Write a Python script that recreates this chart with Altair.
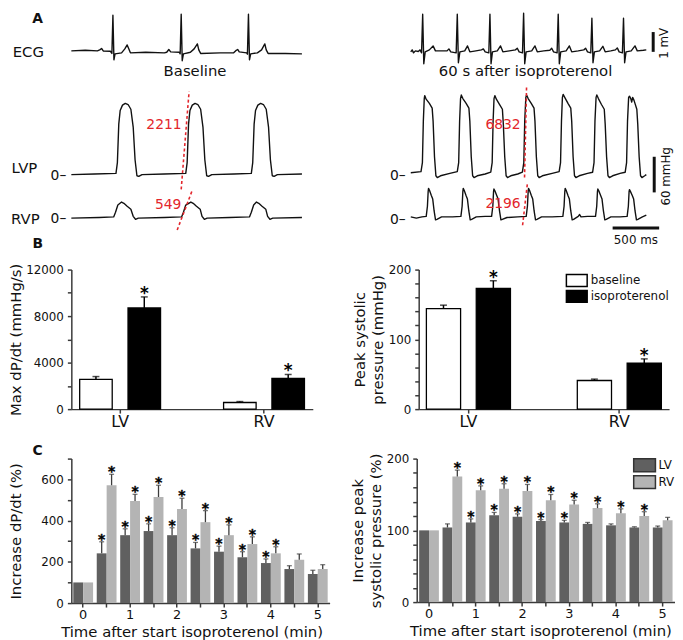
import altair as alt
import pandas as pd

FONT = "DejaVu Sans"
RED = "#e3262c"
INK = "#111111"
AXC = "#3a3a3a"

# ---------------- Panel A: recorded traces ----------------
# (time ms, value) ; ECG in mV, LVP / RVP in mmHg
base_ecg = [(0,0.05),(150,0.08),(280,0.05),(305,0.1),(325,0.17),(345,0.04),(420,0.03),(436,-0.08),(447,1.85),(458,-0.4),
            (470,-0.1),(540,-0.05),(575,0.15),(600,0.35),(615,0.18),(635,-0.05),(800,-0.02),(1000,-0.05),(1025,-0.02),(1048,0.12),
            (1068,0.0),(1160,-0.02),(1170,-0.1),(1181,1.9),(1192,-0.45),(1205,-0.1),(1280,-0.02),(1320,0.15),(1355,0.4),(1370,0.1),
            (1390,-0.08),(1600,-0.05),(1745,-0.05),(1768,0.06),(1788,0.12),(1805,0.0),(1885,-0.05),(1893,-0.12),(1904,1.9),(1915,-0.4),
            (1928,-0.1),(2000,-0.05),(2045,0.1),(2080,0.4),(2095,0.1),(2115,-0.08),(2300,-0.08),(2479,-0.1)]
base_lvp = [(0,0),(250,1),(480,2),(495,20),(510,85),(525,108),(550,117),(580,120),(610,118),(640,110),(665,80),(685,25),
            (705,-2),(725,-3),(760,0),(1000,1),(1230,2),(1245,20),(1260,85),(1275,108),(1300,117),(1330,120),(1360,118),
            (1390,110),(1415,80),(1435,25),(1455,-2),(1475,-3),(1510,0),(1750,1),(1935,2),(1950,20),(1965,85),(1980,108),
            (2005,117),(2035,120),(2065,118),(2095,110),(2120,80),(2140,25),(2160,-2),(2180,-3),(2215,0),(2479,1)]
base_rvp = [(0,0),(300,1),(455,2),(475,10),(500,22),(540,27),(565,25),(600,20),(640,15),(665,3),(690,-2),(720,0),
            (1000,1),(1185,2),(1205,10),(1230,22),(1285,27),(1310,25),(1345,20),(1385,15),(1405,3),(1430,-2),(1460,0),
            (1700,1),(1915,2),(1935,10),(1960,22),(1990,27),(2015,25),(2050,20),(2090,15),(2110,3),(2135,-2),(2165,0),(2479,1)]
iso_ecg = [(0,0.0),(15,0.1),(30,-0.05),(50,0.05),(80,0.02),(100,0.1),(116,-0.05),(128,1.9),(140,-0.6),(155,0.0),
           (200,0.1),(240,0.3),(265,0.05),(330,0.05),(390,0.05),(410,0.15),(430,0.0),(488,-0.05),(500,1.9),(512,-0.55),
           (528,0.0),(580,0.05),(610,0.3),(635,0.0),(700,0.05),(760,0.1),(780,0.15),(800,0.0),(839,-0.05),(851,1.9),
           (863,-0.6),(878,0.0),(930,0.05),(965,0.3),(990,0.0),(1060,0.05),(1125,0.1),(1145,0.18),(1165,0.0),(1201,-0.05),
           (1213,1.95),(1225,-0.6),(1240,0.0),(1300,0.05),(1335,0.3),(1360,0.0),(1430,0.05),(1495,0.08),(1515,0.18),(1535,0.0),
           (1573,-0.05),(1585,1.9),(1597,-0.6),(1612,0.0),(1670,0.05),(1705,0.3),(1730,0.0),(1800,0.05),(1860,0.1),(1880,0.18),
           (1900,0.0),(1935,-0.05),(1947,1.7),(1959,-0.55),(1974,0.0),(2030,0.05),(2065,0.28),(2090,0.0),(2150,0.05),(2200,0.1),
           (2220,0.2),(2240,0.0),(2275,-0.05),(2287,1.7),(2299,-0.55),(2314,0.0),(2370,0.05),(2410,0.3),(2435,0.05),(2500,0.08),
           (2532,0.1)]
iso_lvp = [(0,3),(110,5),(125,20),(135,90),(145,128),(150,133),(165,127),(200,120),(230,112),(240,90),(255,30),(270,-2),
           (285,-5),(320,-2),(420,2),(500,5),(515,20),(525,90),(535,128),(543,134),(560,128),(595,120),(625,112),(635,90),
           (650,30),(665,-2),(680,-5),(715,-2),(800,1),(860,4),(875,20),(885,90),(895,128),(904,133),(920,127),(955,118),
           (985,110),(995,85),(1010,30),(1025,-2),(1040,-5),(1075,-2),(1150,1),(1200,4),(1215,20),(1225,90),(1237,130),
           (1245,134),(1262,128),(1295,120),(1325,112),(1335,90),(1350,30),(1365,-2),(1380,-5),(1415,-2),(1520,2),(1595,5),
           (1610,20),(1620,90),(1630,130),(1638,135),(1655,130),(1690,120),(1720,112),(1730,90),(1745,30),(1760,-2),(1775,-5),
           (1810,-2),(1900,2),(1955,4),(1970,20),(1980,90),(1992,130),(2000,134),(2017,128),(2050,118),(2080,110),(2090,85),
           (2105,30),(2120,-2),(2135,-5),(2170,-2),(2250,2),(2305,4),(2320,20),(2330,90),(2342,130),(2351,132),(2365,128),
           (2375,122),(2385,130),(2400,125),(2430,110),(2440,85),(2455,30),(2470,-2),(2485,-5),(2515,-2),(2532,0)]
iso_rvp = [(0,2),(60,0),(120,2),(166,3),(179,20),(187,45),(191,50),(201,47),(221,38),(236,32),(251,12),(266,-3),(281,-2),
           (331,2),(450,2),(539,3),(552,20),(560,45),(564,50),(574,47),(594,38),(609,32),(624,12),(639,-3),(654,-2),(704,2),
           (800,3),(869,3),(882,20),(890,45),(894,49),(904,46),(924,38),(939,32),(954,12),(969,-3),(984,-2),(1034,1),(1150,2),
           (1241,3),(1254,20),(1262,45),(1266,50),(1276,47),(1296,38),(1311,32),(1326,12),(1341,-3),(1356,-2),(1406,2),(1520,2),
           (1635,3),(1648,20),(1656,45),(1660,50),(1670,47),(1690,38),(1705,32),(1720,12),(1735,-3),(1750,-2),(1800,3),(1815,6),
           (1830,2),(1900,3),(1986,3),(1999,20),(2007,45),(2011,49),(2021,46),(2041,38),(2056,32),(2071,12),(2086,-3),(2101,-2),
           (2151,2),(2250,2),(2326,3),(2339,20),(2347,45),(2351,48),(2361,45),(2381,38),(2396,32),(2411,12),(2426,-3),(2441,-2),
           (2490,2),(2532,5)]
# max dP/dt tangent lines: (time ms, pressure mmHg)
base_lv_tangent = [(1181, -25), (1266, 140)]
base_rv_tangent = [(1138, -20), (1298, 46)]
iso_lv_tangent = [(1223, -5), (1245, 150)]
iso_rv_tangent = [(1202, -12), (1255, 60)]
base_dpdt_labels = ["2211", "549"]
iso_dpdt_labels = ["6832", "2196"]

# display layout of panel A (units: mmHg-equivalent)
ECG_OFFSET = 206.7
ECG_GAIN = 33.33
RVP_OFFSET = -73.3
UNIT_PER_PX = 5.0 / 3.0
A_TOP = 273.33
A_H = 240
A_BOTTOM = A_TOP - A_H * UNIT_PER_PX
MS_PER_PX = 500.0 / 47.0

Y_EXPR = ("datum.kind === 'ECG' ? {eo} + {eg} * datum.v : "
          "(datum.kind === 'RVP' ? {ro} + datum.v : datum.v)").format(eo=ECG_OFFSET, eg=ECG_GAIN, ro=RVP_OFFSET)


def trace_df(ecg, lvp, rvp):
    rows = []
    for kind, pts in (("ECG", ecg), ("LVP", lvp), ("RVP", rvp)):
        for t, v in pts:
            rows.append({"kind": kind, "t": t, "v": v})
    return pd.DataFrame(rows)


def tangent_df(lv, rv):
    rows = []
    for kind, pts in (("LVP", lv), ("RVP", rv)):
        for t, v in pts:
            rows.append({"kind": kind, "t": t, "v": v})
    return pd.DataFrame(rows)


def a_panel(traces, tangents, texts, bars, width, tmax):
    xs = alt.Scale(domain=[0, tmax], nice=False, zero=False)
    ys = alt.Scale(domain=[A_BOTTOM, A_TOP], nice=False, zero=False)
    X = alt.X("t:Q", scale=xs, axis=None)
    Y = alt.Y("y:Q", scale=ys, axis=None)
    lines = alt.Chart(traces).transform_calculate(y=Y_EXPR).mark_line(
        color=INK, strokeWidth=1.4, strokeJoin="round").encode(x=X, y=Y, detail="kind:N", order="t:Q")
    tang = alt.Chart(tangents).transform_calculate(y=Y_EXPR).mark_line(
        color=RED, strokeWidth=1.6, strokeDash=[3, 2.5]).encode(x=X, y=Y, detail="kind:N", order="t:Q")
    layers = [lines, tang]
    for rows, kw in texts:
        df = pd.DataFrame(rows, columns=["t", "y", "label"])
        layers.append(alt.Chart(df).mark_text(font=FONT, baseline="middle", **kw).encode(
            x=X, y=Y, text="label:N"))
    if bars is not None:
        layers.append(alt.Chart(bars).mark_rule(color=INK, strokeWidth=3, strokeCap="butt").encode(
            x=X, x2="t2:Q", y=Y, y2="y2:Q"))
    return alt.layer(*layers).properties(width=width, height=A_H)


a_left = a_panel(
    trace_df(base_ecg, base_lvp, base_rvp),
    tangent_df(base_lv_tangent, base_rv_tangent),
    [
        ([(-362, 261.7, "A")], dict(fontSize=14, fontWeight="bold", color=INK)),
        ([(-463, ECG_OFFSET, "ECG"), (-505, 11.7, "LVP"), (-495, -75, "RVP"), (1330, 175, "Baseline")],
         dict(fontSize=15, color=INK)),
        ([(-223, -3.3, "0–"), (-223, -75, "0–")], dict(fontSize=14, color=INK, align="left")),
        ([(1185, 83.3, base_dpdt_labels[0]), (1183, -51.7, base_dpdt_labels[1])],
         dict(fontSize=14, color=RED, align="right")),
    ],
    None, 269, 269 * MS_PER_PX)

scale_bars = pd.DataFrame({
    "t": [2606, 2617, 2170], "t2": [2606, 2617, 2670],
    "y": [ECG_OFFSET, -30, -90], "y2": [ECG_OFFSET + ECG_GAIN, 30, -90]})

a_right = a_panel(
    trace_df(iso_ecg, iso_lvp, iso_rvp),
    tangent_df(iso_lv_tangent, iso_rv_tangent),
    [
        ([(1234, 174, "60 s after isoproterenol")], dict(fontSize=15, color=INK)),
        ([(-223, -3.3, "0–"), (-223, -76.7, "0–")], dict(fontSize=14, color=INK, align="left")),
        ([(1181, 83.3, iso_dpdt_labels[0]), (1181, -50, iso_dpdt_labels[1])],
         dict(fontSize=14, color=RED, align="right")),
        ([(2420, -110, "500 ms")], dict(fontSize=12, color=INK)),
        ([(2723, 221, "1 mV"), (2745, -3, "60 mmHg")], dict(fontSize=12, color=INK, angle=270)),
    ],
    scale_bars, 266, 266 * MS_PER_PX)

# ---------------- Panel B: bar charts ----------------
regions = ["LV", "RV"]
conditions = ["baseline", "isoproterenol"]
maxdpdt_baseline = [2550, 570]
maxdpdt_baseline_sem = [250, 80]
maxdpdt_iso = [8700, 2650]
maxdpdt_iso_sem = [950, 330]
psp_baseline = [144, 41]
psp_baseline_sem = [5, 2]
psp_iso = [173, 66]
psp_iso_sem = [11, 6]
iso_significant = [True, True]

b_rows = []
for i, r in enumerate(regions):
    b_rows.append({"region": r, "condition": "baseline", "dpdt": maxdpdt_baseline[i], "dpdt_err": maxdpdt_baseline_sem[i],
                   "psp": psp_baseline[i], "psp_err": psp_baseline_sem[i], "sig": False})
    b_rows.append({"region": r, "condition": "isoproterenol", "dpdt": maxdpdt_iso[i], "dpdt_err": maxdpdt_iso_sem[i],
                   "psp": psp_iso[i], "psp_err": psp_iso_sem[i], "sig": iso_significant[i]})
b_df = pd.DataFrame(b_rows)


def letter_layer(letter, x, y):
    return alt.Chart(pd.DataFrame({"l": [letter]})).mark_text(
        font=FONT, fontSize=14, fontWeight="bold", baseline="middle", color=INK).encode(
        text="l:N", x=alt.value(x), y=alt.value(y))


def b_panel(field, err, domain, step, label_step, title, width, height, pin, pout, oin, tpad, legend, letter):
    base = alt.Chart(b_df).transform_calculate(top="datum.%s + datum.%s" % (field, err))
    X = alt.X("region:N", sort=regions, scale=alt.Scale(paddingInner=pin, paddingOuter=pout),
              axis=alt.Axis(title=None, labelAngle=0, labelFontSize=16, tickSize=4, labelPadding=1))
    XO = alt.XOffset("condition:N", sort=conditions, scale=alt.Scale(paddingInner=oin, paddingOuter=0))
    ys = alt.Scale(domain=domain, nice=False)
    yaxis = alt.Axis(values=list(range(domain[0], domain[1] + 1, step)), format="d", labelOverlap=False,
                     labelExpr="datum.value %% %d === 0 ? datum.label : ''" % label_step,
                     title=title, titleFontSize=15, titleLineHeight=18, labelFontSize=12,
                     tickSize=4, labelPadding=4, titlePadding=tpad)
    Y = alt.Y("%s:Q" % field, scale=ys, axis=yaxis)
    bars = base.mark_bar(stroke="black", strokeWidth=1.3).encode(
        x=X, xOffset=XO, y=Y,
        color=alt.Color("condition:N", scale=alt.Scale(domain=conditions, range=["white", "black"]), legend=legend))
    stems = base.mark_rule(color="black", strokeWidth=1.5).encode(
        x=X, xOffset=XO, y=Y, y2="top:Q")
    caps = base.mark_tick(color="black", size=7, thickness=1.5).encode(
        x=X, xOffset=XO, y=alt.Y("top:Q", scale=ys, axis=yaxis))
    stars = base.transform_filter("datum.sig").mark_text(
        text="*", font=FONT, fontSize=17, fontWeight="bold", baseline="middle", dy=-3, color="black").encode(
        x=X, xOffset=XO, y=alt.Y("top:Q", scale=ys, axis=yaxis))
    layers = [bars, stems, caps, stars]
    if letter:
        layers.append(letter_layer(letter, -34, -26))
    return alt.layer(*layers).resolve_scale(color="independent").properties(width=width, height=height)


b_legend = alt.Legend(title=None, orient="none", legendX=152.75, legendY=4,
                      symbolType="M-1.75,-1H1.75V1H-1.75Z", symbolSize=144, symbolStrokeColor="black",
                      symbolStrokeWidth=1.5, labelFontSize=12, labelOffset=7, rowPadding=-6, padding=0,
                      labelFont=FONT, labelColor=INK)

b_left = b_panel("dpdt", "dpdt_err", [0, 12000], 2000, 4000, "Max dP/dt (mmHg/s)", 244, 141,
                 0.438, 0.058, 0.327, 2, None, "B")
b_right = b_panel("psp", "psp_err", [0, 200], 20, 100, ["Peak systolic", "pressure (mmHg)"], 253, 141,
                  0.443, 0.051, 0.314, 3, b_legend, None)

# ---------------- Panel C: time course ----------------
c_time_min = [0, 0.5, 1, 1.5, 2, 2.5, 3, 3.5, 4, 4.5, 5]
c_dpdt_lv = [100, 241, 329, 349, 329, 265, 249, 222, 194, 165, 141]
c_dpdt_lv_sem = [0, 56, 31, 35, 36, 29, 27, 27, 20, 16, 18]
c_dpdt_rv = [100, 571, 495, 514, 456, 392, 329, 286, 241, 210, 165]
c_dpdt_rv_sem = [0, 53, 32, 57, 52, 56, 50, 35, 32, 28, 21]
c_dpdt_lv_sig = [False, True, True, True, True, True, True, True, True, False, False]
c_dpdt_rv_sig = [False, True, True, True, True, True, True, True, True, False, False]
c_psp_lv = [100, 104, 111, 121, 119, 113, 111, 109, 107, 104, 104]
c_psp_lv_sem = [0, 5, 5, 4, 4, 2, 3, 2, 2, 1, 2]
c_psp_rv = [100, 175, 156, 158, 155, 142, 136, 131, 124, 120, 114]
c_psp_rv_sem = [0, 9, 6, 7, 9, 8, 6, 6, 6, 6, 4]
c_psp_lv_sig = [False, False, True, True, True, True, True, False, False, False, False]
c_psp_rv_sig = [False, True, True, True, True, True, True, True, True, True, False]
ventricles = ["LV", "RV"]
DARK = "#606060"
LIGHT = "#b4b4b4"


def c_df(lv, lv_sem, lv_sig, rv, rv_sem, rv_sig):
    rows = []
    for i, t in enumerate(c_time_min):
        rows.append({"time": t, "ventricle": "LV", "value": lv[i], "err": lv_sem[i], "sig": lv_sig[i]})
        rows.append({"time": t, "ventricle": "RV", "value": rv[i], "err": rv_sem[i], "sig": rv_sig[i]})
    return pd.DataFrame(rows)


def c_panel(df, domain, step, label_step, title, tpad, pout, title_x, legend, letter, width, height):
    base = alt.Chart(df).transform_calculate(top="datum.value + datum.err")
    X = alt.X("time:O", scale=alt.Scale(paddingInner=0.156, paddingOuter=pout),
              axis=alt.Axis(title="Time after start isoproterenol (min)", titleFontSize=15, titleX=title_x,
                            titlePadding=3, labelAngle=0, labelFontSize=13, tickSize=4, labelPadding=2,
                            labelOverlap=False, labelExpr="datum.value % 1 === 0 ? datum.label : ''"))
    XO = alt.XOffset("ventricle:N", sort=ventricles, scale=alt.Scale(paddingInner=0, paddingOuter=0))
    ys = alt.Scale(domain=domain, nice=False)
    yaxis = alt.Axis(values=list(range(domain[0], domain[1] + 1, step)), format="d", labelOverlap=False,
                     labelExpr="datum.value %% %d === 0 ? datum.label : ''" % label_step,
                     title=title, titleFontSize=15, titleLineHeight=18, labelFontSize=12,
                     tickSize=4, labelPadding=4, titlePadding=tpad)
    Y = alt.Y("value:Q", scale=ys, axis=yaxis)
    bars = base.mark_bar().encode(
        x=X, xOffset=XO, y=Y,
        color=alt.Color("ventricle:N", scale=alt.Scale(domain=ventricles, range=[DARK, LIGHT]), legend=legend))
    eb = base.transform_filter("datum.err > 0")
    stems = eb.mark_rule(color="#3c3c3c", strokeWidth=1.3).encode(
        x=X, xOffset=XO, y=Y, y2="top:Q")
    caps = eb.mark_tick(color="#3c3c3c", size=5, thickness=1.3).encode(
        x=X, xOffset=XO, y=alt.Y("top:Q", scale=ys, axis=yaxis))
    stars = base.transform_filter("datum.sig").mark_text(
        text="*", font=FONT, fontSize=14, fontWeight="bold", baseline="middle", dy=-2, color="black",
        stroke="black", strokeWidth=0.4).encode(
        x=X, xOffset=XO, y=alt.Y("top:Q", scale=ys, axis=yaxis))
    layers = [bars, stems, caps, stars]
    if letter:
        layers.append(letter_layer(letter, -34, -8))
    return alt.layer(*layers).resolve_scale(color="independent").properties(width=width, height=height)


c_legend = alt.Legend(title=None, orient="none", legendX=222.75, legendY=-0.75,
                      symbolType="M-1.69,-1H1.69V1H-1.69Z", symbolSize=169, symbolStrokeColor="#333333",
                      symbolStrokeWidth=1.5, labelFontSize=12, labelOffset=6.5, rowPadding=-2.5, padding=0,
                      labelFont=FONT, labelColor=INK)

c_left = c_panel(c_df(c_dpdt_lv, c_dpdt_lv_sem, c_dpdt_lv_sig, c_dpdt_rv, c_dpdt_rv_sem, c_dpdt_rv_sig),
                 [0, 700], 100, 200, "Increase dP/dt (%)", 17, 0.083, 121.5, None, "C", 261, 146)
c_right = c_panel(c_df(c_psp_lv, c_psp_lv_sem, c_psp_lv_sig, c_psp_rv, c_psp_rv_sem, c_psp_rv_sig),
                  [0, 200], 20, 100, ["Increase peak", "systolic pressure (%)"], 3, 0.105, 125, c_legend, None,
                  261, 145)

RES = dict(color="independent", xOffset="independent", x="independent", y="independent")
row_a = alt.hconcat(a_left, a_right, spacing=53).resolve_scale(**RES)
row_b = alt.hconcat(b_left, b_right, spacing=40).resolve_scale(**RES).resolve_legend(color="independent")
row_c = alt.hconcat(c_left, c_right, spacing=21).resolve_scale(**RES).resolve_legend(color="independent")

top_ab = alt.vconcat(row_a, row_b, spacing=-13).resolve_scale(**RES).resolve_legend(color="independent")
chart = alt.vconcat(top_ab, row_c, spacing=14).resolve_scale(**RES).resolve_legend(color="independent").properties(
    padding={"left": 0, "top": 0, "right": 0, "bottom": 0}, background="white"
).configure_view(stroke=None).configure_axis(
    labelFont=FONT, titleFont=FONT, domainColor=AXC, tickColor=AXC, labelColor=INK, titleColor=INK,
    titleFontWeight="normal", grid=False, domainWidth=1.5, tickWidth=1.5, labelOverlap=False
).configure_legend(labelFont=FONT)

chart.save("out.html", embed_options={"renderer": "svg", "actions": False})
